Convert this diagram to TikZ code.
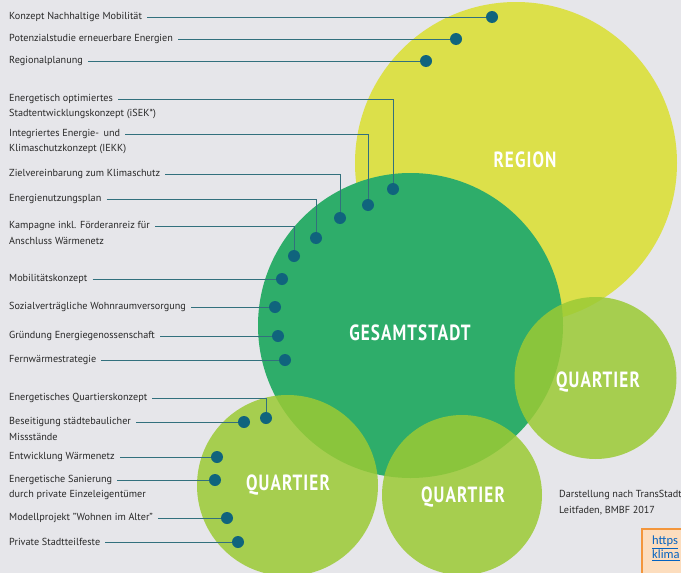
\documentclass[tikz,border=0pt]{standalone}
\usepackage{fontspec}
\setmainfont{PT Sans}
\newfontfamily\circfont[FakeStretch=0.78,LetterSpace=5]{PT Sans}
\newfontfamily\linkfont{Carlito}
\usetikzlibrary{positioning}
\definecolor{BgClr}{HTML}{E6E6EA}
\definecolor{RegionClr}{HTML}{DCE04A}
\definecolor{StadtClr}{HTML}{2EAD6A}
\definecolor{QuartClr}{RGB}{155,202,53}
\definecolor{DotClr}{RGB}{16,100,125}
\definecolor{LeadClr}{RGB}{50,112,125}
\definecolor{TxtClr}{RGB}{40,40,40}
\definecolor{LinkClr}{RGB}{5,99,193}

\tikzset{
  circ/.style={circle,inner sep=0pt,draw=none},
  circtxt/.style={text=white,font=\circfont\bfseries\fontsize{22}{24}\selectfont},
  lbl/.style={anchor=west,inner xsep=5pt,inner ysep=1pt,text=TxtClr,
    font=\fontsize{10.2}{12}\selectfont},
  dot/.style={circle,fill=DotClr,inner sep=0pt,minimum size=12pt},
  lead/.style={draw=LeadClr,line width=0.8pt}
}

\begin{document}
\begin{tikzpicture}[x=1pt,y=-1pt]
\fill[BgClr] (0,0) rectangle (681,573);
\useasboundingbox (0,0) rectangle (681,573);

% the circles
\node[circ,fill=RegionClr,minimum size=322] (region) at (516,163) {};
\node[circ,fill=StadtClr,minimum size=305] (stadt) at (410.5,325.5) {};
\node[circ,fill=QuartClr,fill opacity=.85,minimum size=181] (quartA) at (287.5,485.5) {};
\node[circ,fill=QuartClr,fill opacity=.85,minimum size=160] (quartB) at (462,495) {};
\node[circ,fill=QuartClr,fill opacity=.85,minimum size=162] (quartC) at (595.5,378) {};

\node[circtxt] (regiontxt) at (525,160) {REGION};
\node[circtxt] (stadttxt) at (410,333) {GESAMTSTADT};
\node[circtxt] (quartAtxt) at (288,485) {QUARTIER};
\node[circtxt] (quartBtxt) at (463,497) {QUARTIER};
\node[circtxt] (quartCtxt) at (598,382) {QUARTIER};

% dots
\node[dot] (d1) at (492,17) {};
\node[dot] (d2) at (456,39) {};
\node[dot] (d3) at (426,61) {};
\node[dot] (d4) at (393,189) {};
\node[dot] (d5) at (368,205) {};
\node[dot] (d6) at (340,218) {};
\node[dot] (d7) at (316,238) {};
\node[dot] (d8) at (294,256) {};
\node[dot] (d9) at (282,279) {};
\node[dot] (d10) at (275,307) {};
\node[dot] (d11) at (278,336) {};
\node[dot] (d12) at (285,360) {};
\node[dot] (d13) at (266,418) {};
\node[dot] (d14) at (244,422) {};
\node[dot] (d15) at (217,457) {};
\node[dot] (d16) at (215,480) {};
\node[dot] (d17) at (227,518) {};
\node[dot] (d18) at (238,542) {};

% labels
\node[lbl] (l1) at (4,17) {Konzept Nachhaltige Mobilität};
\node[lbl] (l2) at (4,39) {Potenzialstudie erneuerbare Energien};
\node[lbl] (l3) at (4,61) {Regionalplanung};
\node[lbl] (l4) at (4,99) {Energetisch optimiertes};
\node[lbl] (l4b) at (4,114) {Stadtentwicklungskonzept (iSEK*)};
\node[lbl] (l5) at (4,134) {Integriertes Energie-\, und};
\node[lbl] (l5b) at (4,149) {Klimaschutzkonzept (IEKK)};
\node[lbl] (l6) at (4,174) {Zielvereinbarung zum Klimaschutz};
\node[lbl] (l7) at (4,199) {Energienutzungsplan};
\node[lbl] (l8) at (4,226) {Kampagne inkl. Förderanreiz für};
\node[lbl] (l8b) at (4,241) {Anschluss Wärmenetz};
\node[lbl] (l9) at (4,279) {Mobilitätskonzept};
\node[lbl] (l10) at (4,307) {Sozialverträgliche Wohnraumversorgung};
\node[lbl] (l11) at (4,336) {Gründung Energiegenossenschaft};
\node[lbl] (l12) at (4,360) {Fernwärmestrategie};
\node[lbl] (l13) at (4,398) {Energetisches Quartierskonzept};
\node[lbl] (l14) at (4,422) {Beseitigung städtebaulicher};
\node[lbl] (l14b) at (4,437) {Missstände};
\node[lbl] (l15) at (4,457) {Entwicklung Wärmenetz};
\node[lbl] (l16) at (4,480) {Energetische Sanierung};
\node[lbl] (l16b) at (4,495) {durch private Einzeleigentümer};
\node[lbl] (l17) at (4,518) {Modellprojekt "Wohnen im Alter"};
\node[lbl] (l18) at (4,542) {Private Stadtteilfeste};

% leads
\draw[lead] (l1.east) -- (d1);
\draw[lead] (l2.east) -- (d2);
\draw[lead] (l3.east) -- (d3);
\draw[lead] (l4.east) -| (d4);
\draw[lead] (l5.east) -| (d5);
\draw[lead] (l6.east) -| (d6);
\draw[lead] (l7.east) -| (d7);
\draw[lead] (l8.east) -| (d8);
\draw[lead] (l9.east) -- (d9);
\draw[lead] (l10.east) -- (d10);
\draw[lead] (l11.east) -- (d11);
\draw[lead] (l12.east) -- (d12);
\draw[lead] (l13.east) -| (d13);
\draw[lead] (l14.east) -- (d14);
\draw[lead] (l15.east) -- (d15);
\draw[lead] (l16.east) -- (d16);
\draw[lead] (l17.east) -- (d17);
\draw[lead] (l18.east) -- (d18);

% source
\node[lbl,inner xsep=0pt] (src) at (559,495) {Darstellung nach TransStadt};
\node[lbl,inner xsep=0pt] (src2) at (559,511) {Leitfaden, BMBF 2017};

\filldraw[fill={rgb,255:red,252;green,221;blue,190},draw={rgb,255:red,243;green,150;blue,60},line width=2pt]
  (642,529) rectangle (700,600);
\node[anchor=north west,inner sep=0pt,align=left,text=LinkClr,
  font=\linkfont\fontsize{12.5}{14}\selectfont] (link) at (652,536) {\underline{https}\\\underline{klima}};
\end{tikzpicture}
\end{document}
